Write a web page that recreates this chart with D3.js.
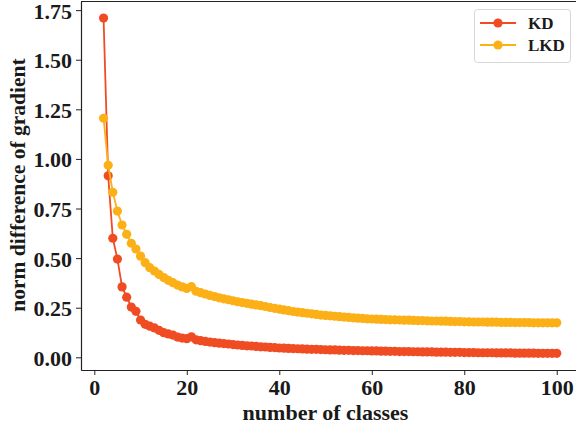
<!DOCTYPE html>
<html><head><meta charset="utf-8">
<script src="https://cdn.jsdelivr.net/npm/d3@7"></script>
<style>body{margin:0;background:#fff}svg{display:block}text{font-family:"Liberation Serif","Times New Roman",serif;font-weight:bold;fill:#1a1a1a}</style>
</head><body><svg id="c" width="576" height="430"></svg>
<script>
const classes = d3.range(2, 101);
const kd = [1.71,0.915,0.60,0.495,0.355,0.303,0.253,0.232,0.188,0.166,0.157,0.148,0.136,0.124,0.118,0.112,0.102,0.097,0.094,0.103,0.088,0.084,0.080,0.077,0.074,0.071,0.069,0.067,0.064,0.062,0.060,0.058,0.057,0.055,0.053,0.052,0.050,0.049,0.047,0.046,0.045,0.044,0.043,0.042,0.041,0.040,0.040,0.039,0.038,0.037,0.037,0.036,0.035,0.035,0.034,0.034,0.033,0.033,0.032,0.032,0.031,0.031,0.030,0.030,0.029,0.029,0.029,0.028,0.028,0.027,0.027,0.027,0.026,0.026,0.026,0.025,0.025,0.025,0.024,0.024,0.024,0.023,0.023,0.023,0.023,0.022,0.022,0.022,0.022,0.021,0.021,0.021,0.021,0.021,0.020,0.020,0.020,0.020,0.020];
const lkd = [1.205,0.968,0.832,0.737,0.667,0.620,0.575,0.546,0.510,0.477,0.452,0.435,0.418,0.402,0.388,0.376,0.364,0.355,0.347,0.356,0.333,0.326,0.319,0.312,0.306,0.300,0.295,0.290,0.285,0.280,0.276,0.272,0.268,0.264,0.260,0.256,0.251,0.247,0.243,0.239,0.235,0.231,0.228,0.225,0.222,0.219,0.216,0.213,0.211,0.209,0.207,0.205,0.203,0.201,0.199,0.197,0.196,0.194,0.193,0.192,0.191,0.190,0.189,0.189,0.188,0.187,0.187,0.186,0.185,0.185,0.184,0.183,0.183,0.182,0.182,0.181,0.180,0.180,0.179,0.179,0.178,0.178,0.178,0.177,0.177,0.177,0.176,0.176,0.176,0.175,0.175,0.175,0.175,0.174,0.174,0.174,0.174,0.174,0.174];
const xTicks = [0,20,40,60,80,100];
const yTicks = [0,0.25,0.5,0.75,1.0,1.25,1.5,1.75];
const seriesNames = ["KD","LKD"];
const seriesColors = ["#f04c23","#fcb017"];

const svg = d3.select("#c");
const x = d3.scaleLinear().domain([-2.9,104.9]).range([80.9,579.4]);
const y = d3.scaleLinear().domain([-0.0645,1.7945]).range([370.1,1.3]);

const gx = svg.append("g").attr("transform","translate(0,370)")
  .call(d3.axisBottom(x).tickValues(xTicks).tickFormat(d3.format("d")).tickSize(5).tickPadding(4).tickSizeOuter(0));
const gy = svg.append("g").attr("transform","translate(81,0)")
  .call(d3.axisLeft(y).tickValues(yTicks).tickFormat(d3.format(".2f")).tickSize(5).tickPadding(4).tickSizeOuter(0));
[gx,gy].forEach(g=>{g.select(".domain").attr("stroke","#222").attr("stroke-width",1.2);
  g.selectAll(".tick line").attr("stroke","#222").attr("stroke-width",1);
  g.selectAll("text").style("font-size","22px").attr("fill","#1a1a1a");});
gy.selectAll(".tick text").attr("dy","0.36em");
svg.append("line").attr("x1",81).attr("x2",576).attr("y1",1.5).attr("y2",1.5).attr("stroke","#222").attr("stroke-width",1.2);

svg.append("text").attr("x",x(50)).attr("y",420).attr("text-anchor","middle").style("font-size","22px").text("number of classes");
svg.append("text").attr("transform","translate(25,185) rotate(-90)").attr("text-anchor","middle").style("font-size","21.5px").text("norm difference of gradient");

const line = d3.line().x((d,i)=>x(classes[i])).y(d=>y(d));
[kd,lkd].forEach((s,k)=>{
  const g = svg.append("g");
  g.append("path").datum(s).attr("d",line).attr("fill","none").attr("stroke",seriesColors[k]).attr("stroke-width",1.8);
  g.selectAll("circle").data(s).join("circle").attr("cx",(d,i)=>x(classes[i])).attr("cy",d=>y(d)).attr("r",4.6).attr("fill",seriesColors[k]);
});

const lg = svg.append("g");
lg.append("rect").attr("x",474.5).attr("y",9.5).attr("width",96).attr("height",53).attr("rx",3).attr("fill","#fff").attr("fill-opacity",0.8).attr("stroke","#d6d6d6");
seriesNames.forEach((n,k)=>{
  const yy = 23 + k*22;
  lg.append("line").attr("x1",480).attr("x2",516).attr("y1",yy).attr("y2",yy).attr("stroke",seriesColors[k]).attr("stroke-width",1.8);
  lg.append("circle").attr("cx",498).attr("cy",yy).attr("r",4.6).attr("fill",seriesColors[k]);
  lg.append("text").attr("x",528).attr("y",yy).attr("dy","0.35em").style("font-size","17px").text(n);
});
</script></body></html>
